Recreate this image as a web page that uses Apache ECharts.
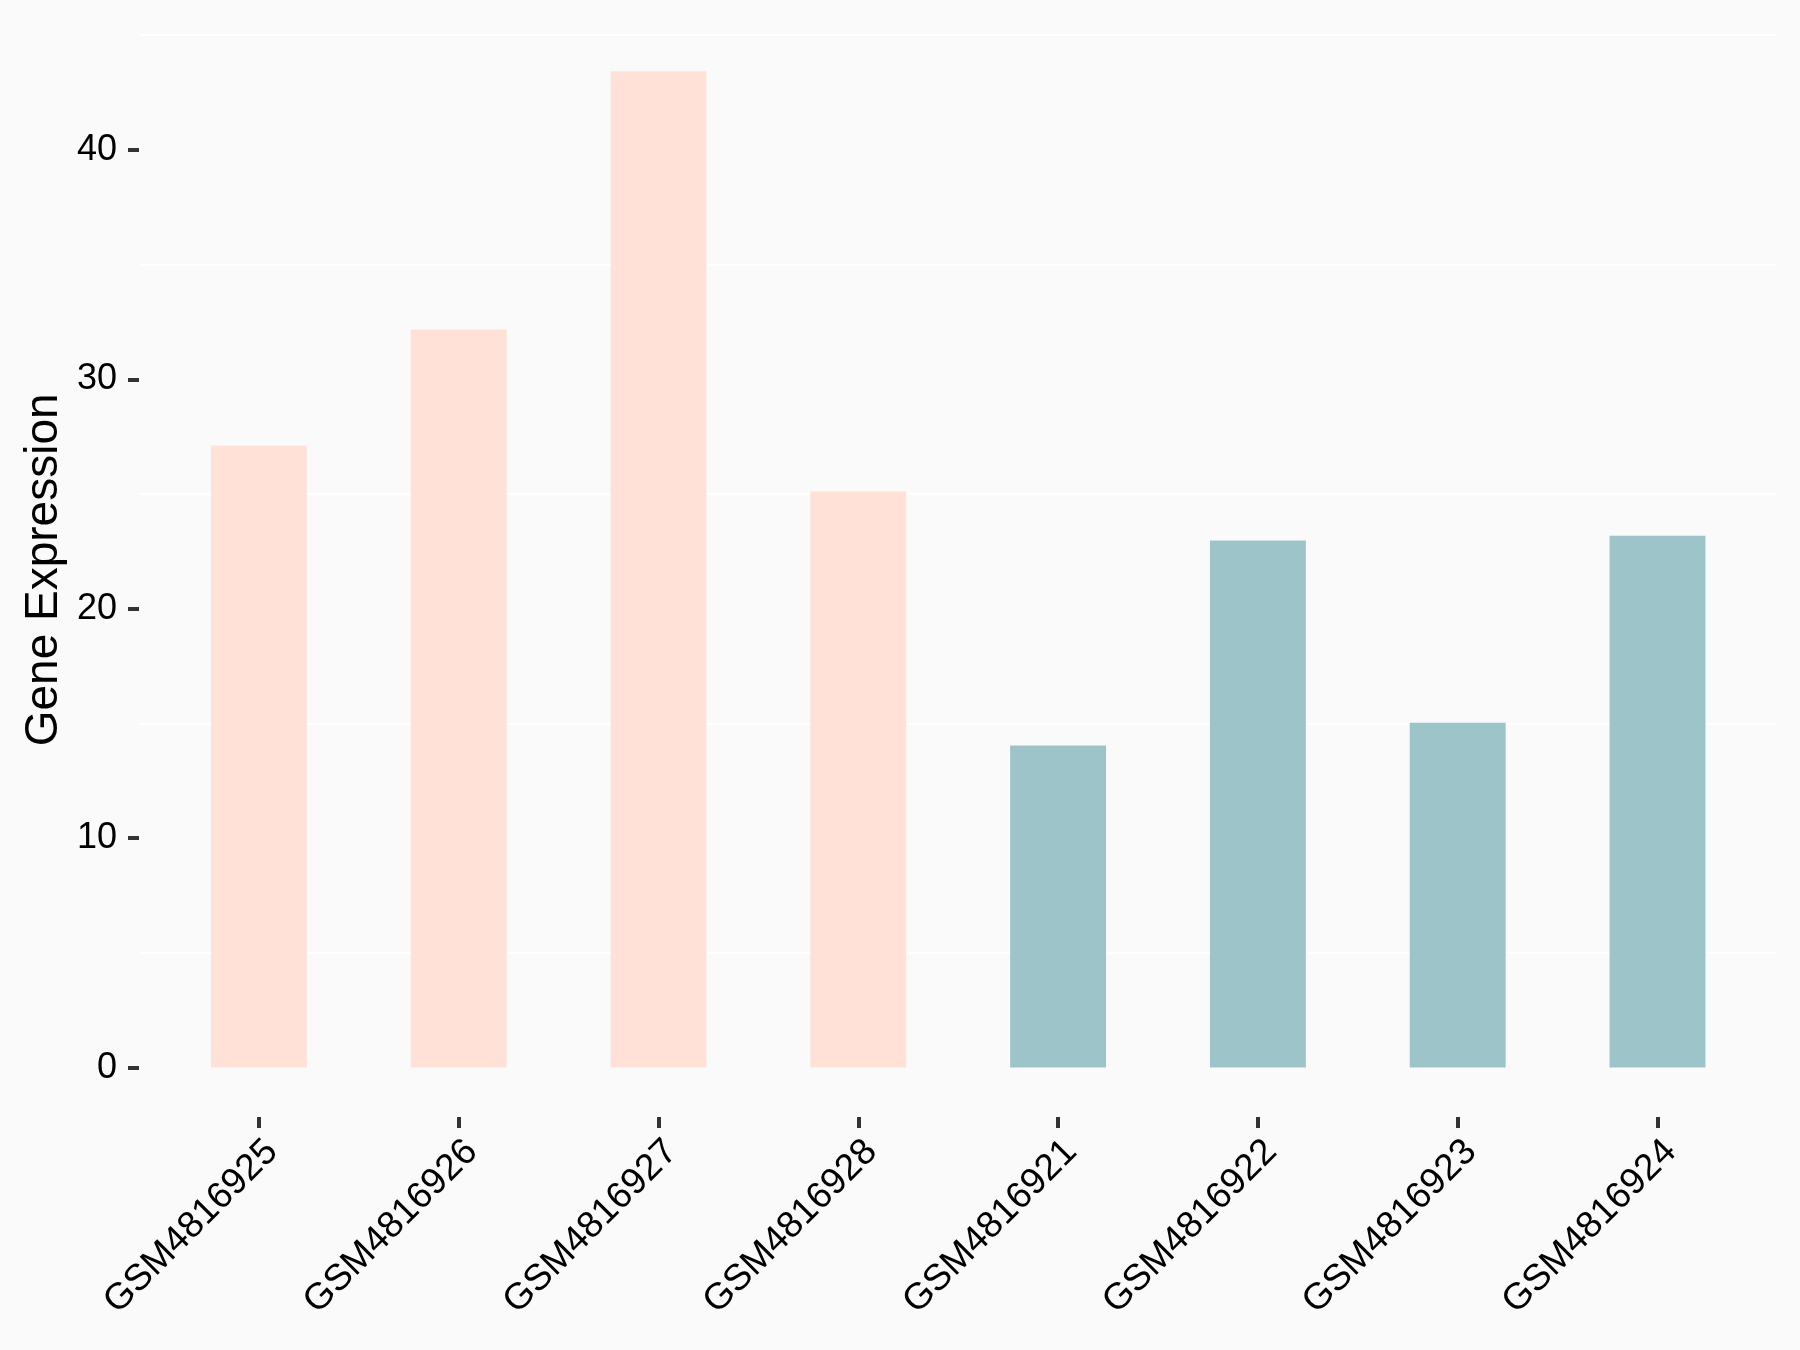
<!DOCTYPE html>
<html>
<head>
<meta charset="utf-8">
<script src="https://cdn.jsdelivr.net/npm/echarts@6/dist/echarts.min.js"></script>
<style>
html,body{margin:0;padding:0;background:#FAFAFA;overflow:hidden;}
#wrap{position:relative;width:1800px;height:1350px;overflow:hidden;}
#chart{position:absolute;left:0;top:-100px;width:1800px;height:1450px;}
</style>
</head>
<body>
<div id="wrap"><div id="chart"></div></div>
<script>
// ---- data ----
const categories = ['GSM4816925','GSM4816926','GSM4816927','GSM4816928','GSM4816921','GSM4816922','GSM4816923','GSM4816924'];
const values = [27.11, 32.17, 43.42, 25.10, 14.03, 22.97, 15.03, 23.18];
const groups = ['A','A','A','A','B','B','B','B'];
const groupColors = { A: '#FFE1D7', B: '#9DC4C8' };
const yTickLabels = [0, 10, 20, 30, 40];
const yTitle = 'Gene Expression';

const FONT = "'Liberation Sans', Arial, sans-serif";
const chart = echarts.init(document.getElementById('chart'), null, { renderer: 'canvas' });

// container is shifted up by 100px so that a grid may start above the page
const SHIFT = 100;

const option = {
  backgroundColor: '#FAFAFA',
  animation: false,
  grid: [
    // 0: full panel (axis title only)
    { left: 139, right: 23, top: 22.7 + SHIFT, bottom: 233 },
    // 1: value scale 0..50 with ticks, labels and grid lines
    { left: 139, right: 23, top: -79.6 + SHIFT, bottom: 282.4 },
    // 2: bars, panel with expanded limits
    { left: 159, right: 42.6, top: 35 + SHIFT, bottom: 233 }
  ],
  xAxis: [
    { gridIndex: 0, type: 'value', show: false },
    { gridIndex: 1, type: 'value', show: false },
    {
      gridIndex: 2, type: 'category', data: categories, boundaryGap: true,
      position: 'bottom',
      axisLine: { show: false, onZero: false },
      axisTick: { show: true, alignWithLabel: true, length: 11, lineStyle: { color: '#333333', width: 4 } },
      axisLabel: {
        rotate: 45, margin: 16, color: '#000000', verticalAlign: 'top',
        fontFamily: FONT, fontSize: 37, interval: 0
      },
      splitLine: { show: false }
    }
  ],
  yAxis: [
    {
      gridIndex: 0, type: 'value', min: 0, max: 1,
      name: yTitle, nameLocation: 'middle', nameGap: 72,
      nameTextStyle: { color: '#000000', fontFamily: FONT, fontSize: 46 },
      axisLine: { show: false }, axisTick: { show: false },
      axisLabel: { show: false }, splitLine: { show: false }
    },
    {
      gridIndex: 1, type: 'value', min: 0, max: 50, interval: 10,
      axisLine: { show: false },
      axisTick: { show: true, length: 11, lineStyle: { color: '#333333', width: 4 } },
      axisLabel: {
        margin: 22, color: '#000000', fontFamily: FONT, fontSize: 36,
        showMaxLabel: false,
        formatter: function (v) { return yTickLabels.indexOf(v) >= 0 ? String(v) : ''; }
      },
      splitLine: { show: false },
      minorTick: { show: false, splitNumber: 2 },
      minorSplitLine: { show: true, lineStyle: { color: '#FFFFFF', width: 2 } }
    },
    {
      gridIndex: 2, type: 'value', min: -2.157, max: 45, show: false
    }
  ],
  series: [
    {
      type: 'bar', xAxisIndex: 2, yAxisIndex: 2,
      data: values,
      barWidth: '48%',
      itemStyle: {
        color: function (p) { return groupColors[groups[p.dataIndex]]; }
      },
      emphasis: { disabled: true }
    }
  ]
};
chart.setOption(option);
</script>
</body>
</html>
